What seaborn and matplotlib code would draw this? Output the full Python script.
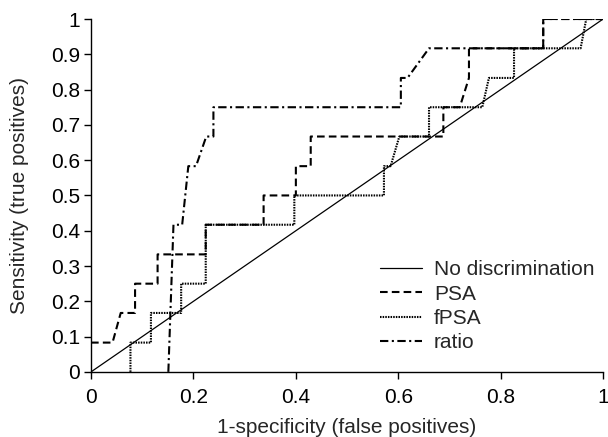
import matplotlib
matplotlib.use('Agg')
import matplotlib.pyplot as plt
import seaborn as sns

# 诊断线（对角线）
diag_x = [0, 1]
diag_y = [0, 1]

# PSA ROC 曲线
psa_fpr = [0, 0.042, 0.058, 0.086, 0.086, 0.130, 0.130, 0.224, 0.224, 0.337, 0.337, 0.400,
           0.400, 0.429, 0.429, 0.688, 0.688, 0.720, 0.738, 0.738, 0.883, 0.883, 1.0]
psa_tpr = [0.083, 0.083, 0.167, 0.167, 0.25, 0.25, 0.333, 0.333, 0.417, 0.417, 0.5, 0.5,
           0.583, 0.583, 0.667, 0.667, 0.75, 0.75, 0.833, 0.917, 0.917, 1.0, 1.0]

# fPSA ROC 曲线
fpsa_fpr = [0.077, 0.077, 0.117, 0.117, 0.176, 0.176, 0.224, 0.224, 0.397, 0.397, 0.572, 0.572,
            0.585, 0.602, 0.660, 0.660, 0.764, 0.777, 0.826, 0.826, 0.956, 0.967, 1.0]
fpsa_tpr = [0, 0.083, 0.083, 0.167, 0.167, 0.25, 0.25, 0.417, 0.417, 0.5, 0.5, 0.583,
            0.583, 0.667, 0.667, 0.75, 0.75, 0.833, 0.833, 0.917, 0.917, 1.0, 1.0]

# ratio ROC 曲线
ratio_fpr = [0.151, 0.161, 0.178, 0.190, 0.205, 0.225, 0.239, 0.239, 0.605, 0.605, 0.618,
             0.660, 0.883, 0.883, 1.0]
ratio_tpr = [0, 0.417, 0.417, 0.583, 0.583, 0.667, 0.667, 0.75, 0.75, 0.833, 0.833,
             0.917, 0.917, 1.0, 1.0]

x_ticks = [0, 0.2, 0.4, 0.6, 0.8, 1.0]
x_tick_labels = ['0', '0.2', '0.4', '0.6', '0.8', '1']
y_ticks = [0, 0.1, 0.2, 0.3, 0.4, 0.5, 0.6, 0.7, 0.8, 0.9, 1.0]
y_tick_labels = ['0', '0.1', '0.2', '0.3', '0.4', '0.5', '0.6', '0.7', '0.8', '0.9', '1']

sns.set_style('ticks')
plt.rcParams['font.family'] = ['Liberation Sans', 'DejaVu Sans']
plt.rcParams['lines.scale_dashes'] = False

fs = 15

fig = plt.figure(figsize=(6.08, 4.37), dpi=100)
ax = fig.add_axes([0.1497, 0.149, 0.8423, 0.8075])

sns.lineplot(x=diag_x, y=diag_y, ax=ax, color='black', linewidth=0.9,
             sort=False, estimator=None, label='No discrimination')
sns.lineplot(x=psa_fpr, y=psa_tpr, ax=ax, color='black', linewidth=1.5,
             sort=False, estimator=None, label='PSA')
sns.lineplot(x=fpsa_fpr, y=fpsa_tpr, ax=ax, color='black', linewidth=1.5,
             sort=False, estimator=None, label='fPSA')
sns.lineplot(x=ratio_fpr, y=ratio_tpr, ax=ax, color='black', linewidth=1.5,
             sort=False, estimator=None, label='ratio')

lines = ax.get_lines()
lines[1].set_dashes((5.5, 3))
lines[2].set_dashes((1.1, 0.8))
lines[3].set_dashes((6, 2.5, 1.5, 2.5))

ax.set_xlim(0, 1)
ax.set_ylim(0, 1)
ax.set_xticks(x_ticks)
ax.set_xticklabels(x_tick_labels)
ax.set_yticks(y_ticks)
ax.set_yticklabels(y_tick_labels)
ax.tick_params(direction='out', length=5, width=1, labelsize=fs, colors='black')
ax.tick_params(axis='x', pad=6.5)
ax.tick_params(axis='y', pad=3)
for s in ['top', 'right']:
    ax.spines[s].set_visible(False)
for s in ['left', 'bottom']:
    ax.spines[s].set_color('black')
    ax.spines[s].set_linewidth(1)

ax.set_xlabel('1-specificity (false positives)', fontsize=fs, labelpad=8)
ax.set_ylabel('Sensitivity (true positives)', fontsize=fs, labelpad=16)

leg = ax.legend(loc='upper left', bbox_to_anchor=(0.565, 0.316), frameon=False,
                fontsize=fs, handlelength=2.0, handletextpad=0.58,
                labelspacing=0.25, borderpad=0, borderaxespad=0)
for h in leg.get_lines():
    h.set_color('black')

fig.savefig('out.png', dpi=100)
